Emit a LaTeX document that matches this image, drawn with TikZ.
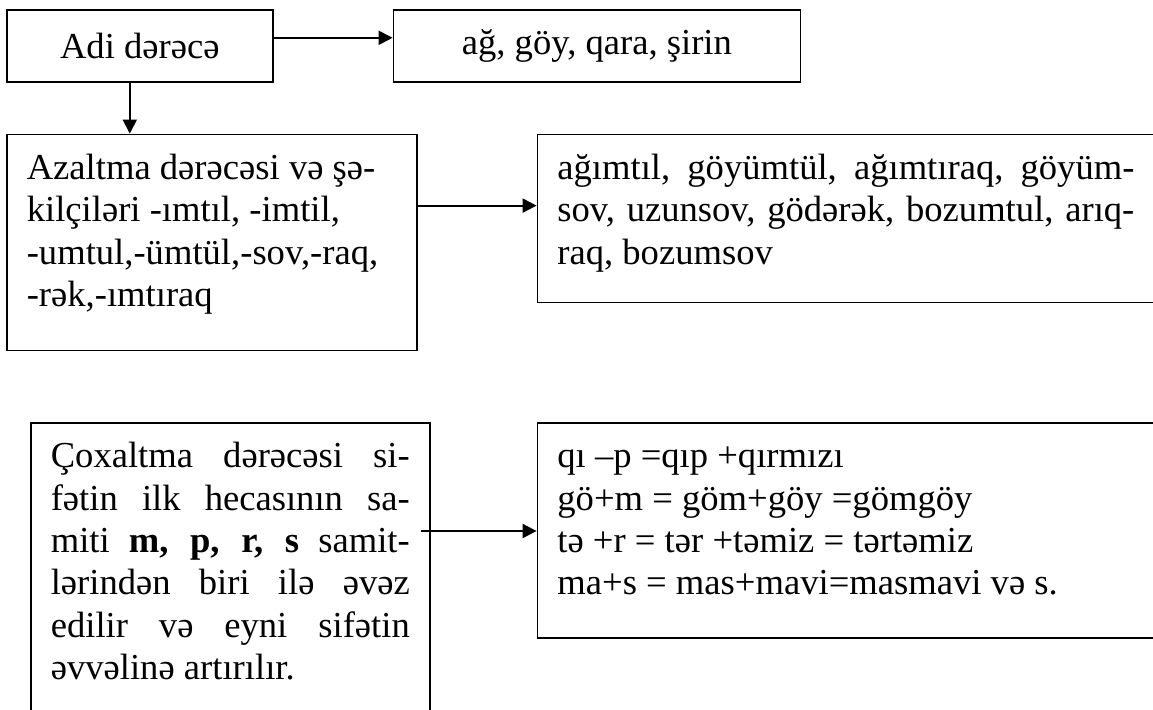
\documentclass[tikz,border=0pt]{standalone}
\usepackage{fontspec}
\setmainfont{Liberation Serif}
\usetikzlibrary{positioning, arrows.meta}

\hbadness=10000
\newcommand{\toppad}{7.6pt}
\newcommand{\boxtext}[3]{\parbox[c][#2][t]{#1}{\vspace*{\toppad}\strut #3}}

\begin{document}
\begin{tikzpicture}[x=0.5pt,y=-0.5pt,font=\fontsize{18.3pt}{21.2pt}\selectfont]
  \tikzset{
    dbox/.style={draw, line width=0.8pt, inner sep=0pt, minimum height=36pt},
    tbox/.style={draw, line width=0.8pt, inner xsep=10pt, inner ysep=0pt},
    link/.style={-{Triangle[length=7pt,width=7pt]}, line width=1pt}
  }
  \clip (0,0) rectangle (1153,709);

  \node[dbox, minimum width=133pt, anchor=north west] (adi) at (6,9) {Adi dərəcə};
  \node[dbox, minimum width=203.5pt, right=59.5pt of adi] (adi_ex) {ağ, göy, qara, şirin};
  \node[tbox, below=25.5pt of adi.south west, anchor=north west] (azal)
    {\boxtext{185pt}{108pt}{\raggedright Azaltma dərəcəsi və şə-\\
      kilçiləri -ımtıl, -imtil,\\ -umtul,-ümtül,-sov,-raq,\\ -rək,-ımtıraq}};
  \node[tbox, right=59.5pt of azal.north east, anchor=north west] (azal_ex)
    {\boxtext{288.5pt}{84pt}{ağımtıl, göyümtül, ağımtıraq, göyüm-\linebreak
      sov, uzunsov, gödərək, bozumtul, arıq-\linebreak raq, bozumsov}};
  \node[tbox, anchor=north west] (cox) at (30,422)
    {\boxtext{179.5pt}{155pt}{Çoxaltma dərəcəsi si-\linebreak
      fətin ilk hecasının sa-\linebreak
      miti \textbf{m, p, r, s} samit-\linebreak
      lərindən biri ilə əvəz\linebreak
      edilir və eyni sifətin\linebreak
      əvvəlinə artırılır.}};
  \node[tbox, right=53pt of cox.north east, anchor=north west] (cox_ex)
    {\boxtext{295pt}{107.5pt}{\raggedright qı –p =qıp +qırmızı\\
      gö+m = göm+göy =gömgöy\\ tə +r = tər +təmiz = tərtəmiz\\
      ma+s = mas+mavi=masmavi və s.}};

  % arrow ends that are not node centres
  \coordinate (a_1) at ([yshift=4pt]adi.east);
  \coordinate (a_2) at ([xshift=-5pt]adi.south);
  \coordinate (a_3) at ([yshift=-36pt]azal.north east);
  \coordinate (a_4) at ([xshift=-5pt,yshift=-54.5pt]cox.north east);

  \path[link]
    (a_1) edge (a_1 -| adi_ex.west)
    (a_2) edge (a_2 |- azal.north)
    (a_3) edge (a_3 -| azal_ex.west)
    (a_4) edge (a_4 -| cox_ex.west);
\end{tikzpicture}
\end{document}
